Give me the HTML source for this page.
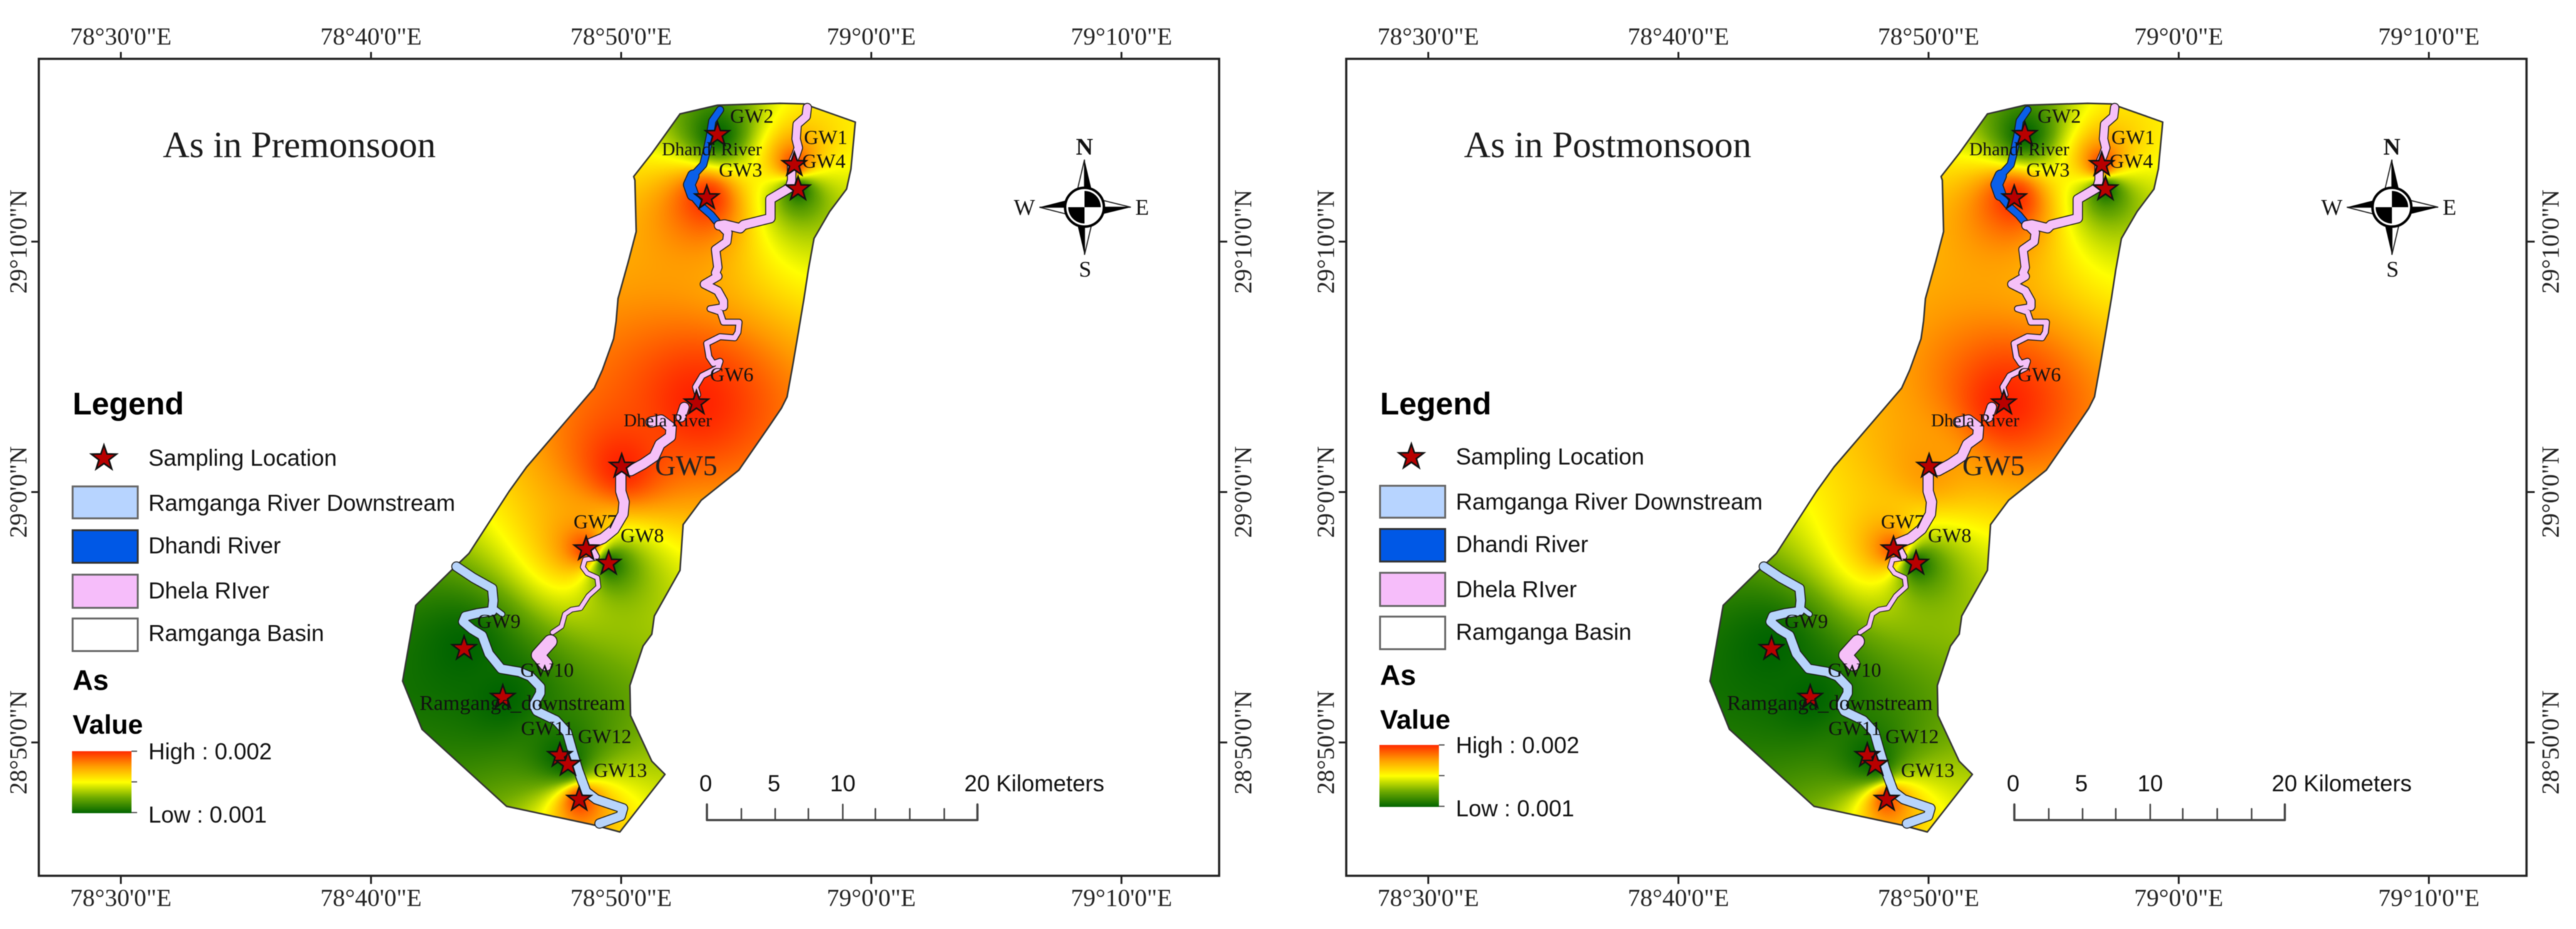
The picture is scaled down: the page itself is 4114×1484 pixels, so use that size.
<!DOCTYPE html>
<html lang="en">
<head>
<meta charset="utf-8">
<title>As in Premonsoon and Postmonsoon</title>
<style>
html,body{margin:0;padding:0;background:#fff}
#stage{position:relative;width:4114px;height:1484px;overflow:hidden;background:#fff;filter:blur(.7px)}
#heat-canvas,#map-svg{position:absolute;left:0;top:0}
text{fill:#111}
.serif{font-family:"Liberation Serif",serif}
.sans{font-family:"Liberation Sans",sans-serif}
.tick-label{font-family:"Liberation Serif",serif;font-size:39.5px;fill:#222}
.site{font-family:"Liberation Serif",serif;font-size:32px;fill:#111}
.lg{font-family:"Liberation Sans",sans-serif;font-size:36.6px;fill:#111}
.lgb{font-family:"Liberation Sans",sans-serif;font-weight:bold;fill:#000}
.patch{stroke-width:3}
defs path{vector-effect:non-scaling-stroke;fill:none;stroke-linejoin:round;stroke-linecap:round}
.ol{stroke:#1a1a1a}
.pk{stroke:#f6c0f8}
.bl{stroke:#0a5fe8}
.lb{stroke:#b7d4fb}
</style>
</head>
<body>
<div id="stage">
<canvas id="heat-canvas" width="4114" height="1484"></canvas>
<svg id="map-svg" width="4114" height="1484" viewBox="0 0 4114 1484" xmlns="http://www.w3.org/2000/svg">
<defs>
  <linearGradient id="ramp" x1="0" y1="0" x2="0" y2="1">
    <stop offset="0" stop-color="#ff2a00"/>
    <stop offset=".25" stop-color="#ff9f00"/>
    <stop offset=".5" stop-color="#ffff00"/>
    <stop offset=".75" stop-color="#6eaa00"/>
    <stop offset="1" stop-color="#006400"/>
  </linearGradient>

  <path id="basin-path" style="fill:none" d="M1086 182 L1146 168 L1246 165 L1284 166 L1366 195 L1359 270 L1352 302 L1325 338 L1300 381 L1291 431 L1284 477 L1275 531 L1266 584 L1257 634 L1248 652 L1229 680 L1180 751 L1120 799 L1091 838 L1086 911 L1045 984 L1041 1013 L1027 1032 L1006 1095 L1007 1143 L1041 1216 L1062 1237 L990 1329 L949 1318 L809 1288 L674 1165 L643 1088 L664 967 L724 908 L749 884 L813 785 L841 746 L949 620 L962 591 L980 541 L984 513 L987 477 L1004 416 L1016 370 L1014 288 L1012 282 L1041 245 Z"/>

  <path id="r-a" d="M1090 145 L1085 185 L1045 220 L1040 285 L1050 325 L1040 355 L1020 400 L1020 470 L1010 505"/>
  <path id="r-b" d="M1010 505 L925 555 L925 640 L805 670 L790 685 L720 668 L695 672"/>
  <path id="r-c" d="M700 670 L735 705 L730 745 L680 780 L685 820 L690 860 L680 885 L690 900 L630 935 L690 965 L715 1010 L715 1035"/>
  <path id="r-d" d="M715 1035 L655 1045 L700 1060 L715 1105 L785 1105 L780 1150 L765 1175 L700 1170 L640 1200 L650 1260 L670 1290 L700 1280 L690 1310 L620 1345 L590 1395 L600 1430"/>
  <path id="r-e" d="M540 1485 L525 1530"/>
  <path id="r-f" d="M1175 112 L1220 105 L1265 130 L1262 160 L1215 185 L1190 225 L1140 250 L1085 272"/>
  <path id="r-g" d="M1040 290 L1040 340 L1055 375 L1050 415 L1010 465 L960 495 L895 515"/>
  <path id="r-h" d="M915 535 L930 555"/>
  <path id="r-i" d="M930 560 L880 565 L870 590 L890 610 L935 625 L940 655 L895 685 L860 725 L820 730 L790 745 L775 785 L735 805"/>
  <path id="r-j" d="M725 835 L670 880 L705 910"/>
  <path id="r-k" d="M700 155 L665 205 L655 270 L640 340 L625 400 L570 460 L560 490 L570 530 L620 590 L660 625 L685 655"/>
  <path id="r-l" d="M580 450 L562 490 L578 535"/>
  <path id="r-m" d="M305 588 L380 625 L465 660 L470 700 L465 735 L400 742 L345 752 L335 770 L375 795 L420 815 L450 875 L505 925 L585 935 L635 950 L680 985 L680 1005 L650 1045 L665 1065 L750 1095 L800 1135 L825 1200 L850 1260 L885 1330 L930 1355 L1050 1385 L1040 1410 L945 1435"/>
  <path id="r-n" d="M465 720 L510 745"/>

  <g id="rivers">
    <g transform="translate(620,620) scale(.35714,.48469)">
      <use href="#r-m" class="ol" stroke-width="16.500"/>
      <use href="#r-n" class="ol" stroke-width="10"/>
      <use href="#r-m" class="lb" stroke-width="13.500"/>
      <use href="#r-n" class="lb" stroke-width="7"/>
    </g>
    <g transform="translate(900,120) scale(.35714)">
      <use href="#r-k" class="ol" stroke-width="13"/>
      <use href="#r-l" class="ol" stroke-width="20"/>
      <use href="#r-k" class="bl" stroke-width="10"/>
      <use href="#r-l" class="bl" stroke-width="17"/>
      <use href="#r-a" class="ol" stroke-width="15"/>
      <use href="#r-b" class="ol" stroke-width="16.500"/>
      <use href="#r-c" class="ol" stroke-width="15"/>
      <use href="#r-d" class="ol" stroke-width="11"/>
      <use href="#r-e" class="ol" stroke-width="17"/>
      <use href="#r-a" class="pk" stroke-width="12"/>
      <use href="#r-b" class="pk" stroke-width="13.500"/>
      <use href="#r-c" class="pk" stroke-width="12"/>
      <use href="#r-d" class="pk" stroke-width="8"/>
      <use href="#r-e" class="pk" stroke-width="14"/>
    </g>
    <g transform="translate(620,620) scale(.35714,.48469)">
      <use href="#r-f" class="ol" stroke-width="18"/>
      <use href="#r-g" class="ol" stroke-width="18"/>
      <use href="#r-h" class="ol" stroke-width="12"/>
      <use href="#r-i" class="ol" stroke-width="9"/>
      <use href="#r-j" class="ol" stroke-width="23"/>
      <use href="#r-f" class="pk" stroke-width="15"/>
      <use href="#r-g" class="pk" stroke-width="15"/>
      <use href="#r-h" class="pk" stroke-width="9"/>
      <use href="#r-i" class="pk" stroke-width="6.500"/>
      <use href="#r-j" class="pk" stroke-width="20"/>
    </g>
  </g>

  <g id="compass">
    <g fill="#fff" stroke="#222" stroke-width="1.800">
      <polygon points="0,-76 -12,-25 0,-25"/>
      <polygon points="74,0 25,-12 25,0"/>
      <polygon points="0,76 12,25 0,25"/>
      <polygon points="-72,0 -25,12 -25,0"/>
    </g>
    <g fill="#000">
      <polygon points="0,-76 12,-25 0,-25"/>
      <polygon points="74,0 25,12 25,0"/>
      <polygon points="0,76 -12,25 0,25"/>
      <polygon points="-72,0 -25,-12 -25,0"/>
    </g>
    <circle r="31" fill="#fff" stroke="#000" stroke-width="4"/>
    <path style="fill:#000;stroke:none" d="M0 0 L0 -26 A26 26 0 0 1 26 0 Z"/>
    <path style="fill:#000;stroke:none" d="M0 0 L0 26 A26 26 0 0 1 -26 0 Z"/>
  </g>

  <g id="scale-bar-lines" fill="none" stroke="#444" stroke-width="2.500">
    <path style="stroke:#444;stroke-width:3.500" d="M1129 1285 L1129 1310 L1561 1310 L1561 1285"/>
    <path d="M1346 1285 L1346 1310 M1184 1292 L1184 1310 M1238 1292 L1238 1310 M1291 1292 L1291 1310 M1398 1292 L1398 1310 M1453 1292 L1453 1310 M1508 1292 L1508 1310"/>
  </g>
</defs>

<!-- ========== PANEL 1 ========== -->
<g id="panel-1">
  <rect x="62" y="94" width="1885" height="1305" fill="none" stroke="#222" stroke-width="3.500"/>
  <g class="axes"></g>
  <use href="#basin-path" stroke="#333" stroke-width="2.500"/>
  <use href="#rivers"/>
  <g class="stars"></g>
  <text class="serif" x="260" y="251" font-size="59" style="fill:#1a1a1a">As in Premonsoon</text>
  <g>
    <text class="site" x="1166" y="196">GW2</text>
    <text class="site" x="1284" y="230">GW1</text>
    <text class="site" x="1281" y="268">GW4</text>
    <text class="site" x="1148" y="282">GW3</text>
    <text class="serif" x="1057" y="248" font-size="29.500">Dhandi River</text>
    <text class="site" x="1134" y="609">GW6</text>
    <text class="serif" x="996" y="681" font-size="29">Dhela River</text>
    <text class="serif" x="1046" y="759" font-size="46" style="fill:#222">GW5</text>
    <text class="site" x="916" y="844">GW7</text>
    <text class="site" x="991" y="866">GW8</text>
    <text class="site" x="762" y="1003">GW9</text>
    <text class="site" x="831" y="1081">GW10</text>
    <text class="serif" x="670" y="1134" font-size="34">Ramganga_downstream</text>
    <text class="site" x="832" y="1174">GW11</text>
    <text class="site" x="923" y="1187">GW12</text>
    <text class="site" x="948" y="1241">GW13</text>
  </g>
  <g>
    <use href="#compass" transform="translate(1732,331)"/>
    <text class="serif" x="1732" y="247" font-size="38" font-weight="bold" text-anchor="middle">N</text>
    <text class="serif" x="1733" y="442" font-size="36" text-anchor="middle">S</text>
    <text class="serif" x="1653" y="343" font-size="36" text-anchor="end">W</text>
    <text class="serif" x="1813" y="343" font-size="36">E</text>
  </g>
  <g>
    <text class="lgb" x="116" y="662" font-size="50">Legend</text>
    <polygon transform="translate(166,732) scale(1.050)" points="0,-20 4.700,-6.500 19,-6.200 7.600,2.500 11.800,16.200 0,8 -11.800,16.200 -7.600,2.500 -19,-6.200 -4.700,-6.500" fill="#b80000" stroke="#111" stroke-width="2.500"/>
    <text class="lg" x="237" y="744">Sampling Location</text>
    <rect class="patch" x="116" y="777" width="104" height="51" fill="#b7d4ff" stroke="#666"/>
    <text class="lg" x="237" y="816">Ramganga River Downstream</text>
    <rect class="patch" x="116" y="847" width="104" height="52" fill="#0058e6" stroke="#333"/>
    <text class="lg" x="237" y="884">Dhandi River</text>
    <rect class="patch" x="116" y="918" width="104" height="53" fill="#f6bdfa" stroke="#666"/>
    <text class="lg" x="237" y="956">Dhela RIver</text>
    <rect class="patch" x="116" y="988" width="104" height="52" fill="#fff" stroke="#666"/>
    <text class="lg" x="237" y="1024">Ramganga Basin</text>
    <text class="lgb" x="116" y="1102" font-size="45">As</text>
    <text class="lgb" x="116" y="1172" font-size="43">Value</text>
    <rect x="115" y="1200" width="95" height="99" fill="url(#ramp)"/>
    <path d="M210 1200 H219 M210 1249 H219 M210 1298 H219" stroke="#555" stroke-width="2" fill="none"/>
    <text class="lg" x="237" y="1213">High : 0.002</text>
    <text class="lg" x="237" y="1314">Low : 0.001</text>
  </g>
  <g>
    <use href="#scale-bar-lines"/>
    <text class="lg" x="1127" y="1264" text-anchor="middle">0</text>
    <text class="lg" x="1236" y="1264" text-anchor="middle">5</text>
    <text class="lg" x="1346" y="1264" text-anchor="middle">10</text>
    <text class="lg" x="1540" y="1264">20 Kilometers</text>
  </g>
</g>

<!-- ========== PANEL 2 ========== -->
<g id="panel-2" transform="translate(2088,0)">
  <rect x="62" y="94" width="1885" height="1305" fill="none" stroke="#222" stroke-width="3.500"/>
  <g class="axes"></g>
  <use href="#basin-path" stroke="#333" stroke-width="2.500"/>
  <use href="#rivers"/>
  <g class="stars"></g>
  <text class="serif" x="250" y="251" font-size="59" style="fill:#1a1a1a">As in Postmonsoon</text>
  <g>
    <text class="site" x="1166" y="196">GW2</text>
    <text class="site" x="1284" y="230">GW1</text>
    <text class="site" x="1281" y="268">GW4</text>
    <text class="site" x="1148" y="282">GW3</text>
    <text class="serif" x="1057" y="248" font-size="29.500">Dhandi River</text>
    <text class="site" x="1134" y="609">GW6</text>
    <text class="serif" x="996" y="681" font-size="29">Dhela River</text>
    <text class="serif" x="1046" y="759" font-size="46" style="fill:#222">GW5</text>
    <text class="site" x="916" y="844">GW7</text>
    <text class="site" x="991" y="866">GW8</text>
    <text class="site" x="762" y="1003">GW9</text>
    <text class="site" x="831" y="1081">GW10</text>
    <text class="serif" x="670" y="1134" font-size="34">Ramganga_downstream</text>
    <text class="site" x="832" y="1174">GW11</text>
    <text class="site" x="923" y="1187">GW12</text>
    <text class="site" x="948" y="1241">GW13</text>
  </g>
  <g>
    <use href="#compass" transform="translate(1732,331)"/>
    <text class="serif" x="1732" y="247" font-size="38" font-weight="bold" text-anchor="middle">N</text>
    <text class="serif" x="1733" y="442" font-size="36" text-anchor="middle">S</text>
    <text class="serif" x="1653" y="343" font-size="36" text-anchor="end">W</text>
    <text class="serif" x="1813" y="343" font-size="36">E</text>
  </g>
  <g>
    <text class="lgb" x="116" y="662" font-size="50">Legend</text>
    <polygon transform="translate(166,730) scale(1.050)" points="0,-20 4.700,-6.500 19,-6.200 7.600,2.500 11.800,16.200 0,8 -11.800,16.200 -7.600,2.500 -19,-6.200 -4.700,-6.500" fill="#b80000" stroke="#111" stroke-width="2.500"/>
    <text class="lg" x="237" y="742">Sampling Location</text>
    <rect class="patch" x="116" y="776" width="104" height="51" fill="#b7d4ff" stroke="#666"/>
    <text class="lg" x="237" y="814">Ramganga River Downstream</text>
    <rect class="patch" x="116" y="845" width="104" height="52" fill="#0058e6" stroke="#333"/>
    <text class="lg" x="237" y="882">Dhandi River</text>
    <rect class="patch" x="116" y="915" width="104" height="53" fill="#f6bdfa" stroke="#666"/>
    <text class="lg" x="237" y="954">Dhela RIver</text>
    <rect class="patch" x="116" y="985" width="104" height="52" fill="#fff" stroke="#666"/>
    <text class="lg" x="237" y="1022">Ramganga Basin</text>
    <text class="lgb" x="116" y="1094" font-size="45">As</text>
    <text class="lgb" x="116" y="1164" font-size="43">Value</text>
    <rect x="115" y="1190" width="95" height="99" fill="url(#ramp)"/>
    <path d="M210 1190 H219 M210 1239 H219 M210 1288 H219" stroke="#555" stroke-width="2" fill="none"/>
    <text class="lg" x="237" y="1203">High : 0.002</text>
    <text class="lg" x="237" y="1304">Low : 0.001</text>
  </g>
  <g>
    <use href="#scale-bar-lines"/>
    <text class="lg" x="1127" y="1264" text-anchor="middle">0</text>
    <text class="lg" x="1236" y="1264" text-anchor="middle">5</text>
    <text class="lg" x="1346" y="1264" text-anchor="middle">10</text>
    <text class="lg" x="1540" y="1264">20 Kilometers</text>
  </g>
</g>
</svg>
</div>

<script>
// Map data: site order is GW1..GW13
const siteNames = ["GW1","GW2","GW3","GW4","GW5","GW6","GW7","GW8","GW9","GW10","GW11","GW12","GW13"];
const siteLon = [78.9487,78.8975,78.8904,78.9512,78.8337,78.8835,78.8100,78.8250,78.7287,78.7545,78.7925,78.7979,78.8054];
const siteLat = [29.2179,29.2379,29.1958,29.2017,29.0171,29.0592,28.9621,28.9525,28.8958,28.8633,28.8246,28.8187,28.7954];
const premonsoonAs = [0.00195,0.00101,0.00198,0.00102,0.00200,0.00200,0.00195,0.00102,0.00100,0.00100,0.00101,0.00101,0.00195];
const postmonsoonAs = [0.00195,0.00101,0.00198,0.00102,0.00175,0.00200,0.00190,0.00102,0.00100,0.00100,0.00101,0.00101,0.00190];
const lonTicks = [78.5,78.66667,78.83333,79,79.16667];
const lonTickLabels = ["78°30'0\"E","78°40'0\"E","78°50'0\"E","79°0'0\"E","79°10'0\"E"];
const latTicks = [29.16667,29,28.83333];
const latTickLabels = ["29°10'0\"N","29°0'0\"N","28°50'0\"N"];

const SVGNS = "http://www.w3.org/2000/svg";
const xOf = lon => 992 + (lon - 78.83333) * 2397;
const yOf = lat => 786 - (lat - 29) * 2400;
const STAR_POINTS = "0,-20 4.700,-6.500 19,-6.200 7.600,2.500 11.800,16.200 0,8 -11.800,16.200 -7.600,2.500 -19,-6.200 -4.700,-6.500";

function addTick(group, d) {
  const t = document.createElementNS(SVGNS, "path");
  t.setAttribute("d", d);
  t.setAttribute("stroke", "#222");
  t.setAttribute("stroke-width", "3");
  t.setAttribute("fill", "none");
  
  
  group.appendChild(t);
}
function addLabel(group, str, tr) {
  const t = document.createElementNS(SVGNS, "text");
  t.setAttribute("class", "tick-label");
  t.setAttribute("text-anchor", "middle");
  t.setAttribute("transform", tr);
  t.textContent = str;
  
  
  group.appendChild(t);
}
function drawAxes(group) {
  lonTicks.forEach((lon, i) => {
    const x = xOf(lon);
    addTick(group, `M${x} 94 V83 M${x} 1399 V1412`);
    addLabel(group, lonTickLabels[i], `translate(${x},71)`);
    addLabel(group, lonTickLabels[i], `translate(${x},1447)`);
  });
  latTicks.forEach((lat, i) => {
    const y = yOf(lat);
    addTick(group, `M62 ${y} H50 M1947 ${y} H1960`);
    addLabel(group, latTickLabels[i], `translate(42,${y}) rotate(-90)`);
    addLabel(group, latTickLabels[i], `translate(1998,${y}) rotate(-90)`);
  });
}
function drawStars(group) {
  siteLon.forEach((lon, i) => {
    const s = document.createElementNS(SVGNS, "polygon");
    s.setAttribute("points", STAR_POINTS);
    s.setAttribute("transform", `translate(${xOf(lon)},${yOf(siteLat[i])})`);
    s.setAttribute("fill", "#b80000");
    s.setAttribute("stroke", "#111");
    s.setAttribute("stroke-width", "2.500");
    
    
    group.appendChild(s);
  });
}

// Distance-weighted surface: the search radius tightens toward the south of the basin
const rampStops = [[0,100,0],[110,170,0],[255,255,0],[255,153,0],[255,34,0]];
function rampColor(t) {
  t = Math.max(0, Math.min(1, t)) * 4;
  const i = Math.min(3, Math.floor(t)), f = t - i;
  const a = rampStops[i], b = rampStops[i + 1];
  return [a[0] + (b[0] - a[0]) * f, a[1] + (b[1] - a[1]) * f, a[2] + (b[2] - a[2]) * f];
}
function searchRadius(py) {
  const f = Math.max(0, Math.min(1, (py - 800) / 300));
  return 1150 - 500 * f;
}
function drawSurface(ctx, values, dx) {
  const x0 = 630, y0 = 155, w = 750, h = 1190;
  const tmp = document.createElement("canvas");
  tmp.width = w; tmp.height = h;
  const tc = tmp.getContext("2d");
  const img = tc.createImageData(w, h);
  const sx = siteLon.map(xOf), sy = siteLat.map(yOf);
  const lo = 0.001, hi = 0.002;
  let p = 0;
  for (let j = 0; j < h; j++) {
    const R = searchRadius(y0 + j);
    for (let i = 0; i < w; i++) {
      let num = 0, den = 0;
      for (let k = 0; k < sx.length; k++) {
        const ddx = x0 + i - sx[k], ddy = y0 + j - sy[k];
        const d = Math.sqrt(ddx * ddx + ddy * ddy) + 1;
        if (d >= R) continue;
        const q = (R - d) / d;
        const wgt = q * q;
        num += wgt * values[k];
        den += wgt;
      }
      const c = rampColor(den > 0 ? (num / den - lo) / (hi - lo) : 0.5);
      img.data[p++] = c[0]; img.data[p++] = c[1]; img.data[p++] = c[2]; img.data[p++] = 255;
    }
  }
  tc.putImageData(img, 0, 0);
  const basin = new Path2D(document.getElementById("basin-path").getAttribute("d"));
  ctx.save();
  ctx.translate(dx, 0);
  ctx.clip(basin);
  ctx.drawImage(tmp, x0, y0);
  ctx.restore();
}

const heatCtx = document.getElementById("heat-canvas").getContext("2d");
drawSurface(heatCtx, premonsoonAs, 0);
drawSurface(heatCtx, postmonsoonAs, 2088);
document.querySelectorAll("#panel-1 .axes, #panel-2 .axes").forEach(drawAxes);
document.querySelectorAll("#panel-1 .stars, #panel-2 .stars").forEach(drawStars);
</script>
</body>
</html>
